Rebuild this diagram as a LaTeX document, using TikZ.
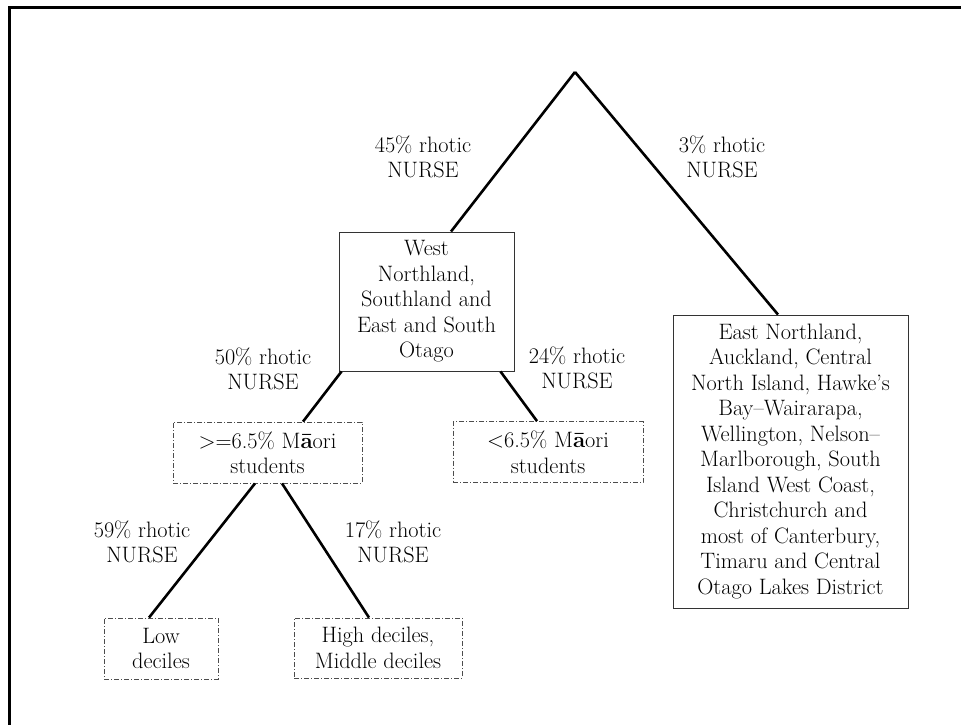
\documentclass[tikz,border=0pt]{standalone}
\usepackage{fontspec}
\begin{document}
\begin{tikzpicture}[x=1pt,y=-1pt,
  txt/.style={font=\fontsize{22.3}{25.5}\selectfont, align=center, inner sep=0pt},
  solidbox/.style={txt, draw=black!80, line width=0.9pt, minimum width=#1},
  dashbox/.style={txt, draw=black!70, line width=0.8pt, dash pattern=on 5pt off 2pt on 1pt off 2pt},
  conn/.style={line width=2.6pt, black}]
\useasboundingbox (0,0) rectangle (961,725);
\draw[line width=3pt] (9,726) -- (9,8) -- (962,8);

\coordinate (apex) at (575,72);

\node[solidbox=175pt, minimum height=139pt] (west) at (426.5,301.5)
  {West\\Northland,\\Southland and\\East and South\\Otago};
\node[solidbox=235pt, minimum height=293pt] (east) at (790.5,461.5)
  {East Northland,\\Auckland, Central\\North Island, Hawke's\\Bay--Wairarapa,\\Wellington, Nelson--\\Marlborough, South\\Island West Coast,\\Christchurch and\\most of Canterbury,\\Timaru and Central\\Otago Lakes District};

\node[dashbox, minimum width=189pt, minimum height=61pt] (hi) at (267.5,452.5)
  {>=6.5\% M\textbf{ā}ori\\students};
\node[dashbox, minimum width=190pt, minimum height=61pt] (lo) at (548,452)
  {<6.5\% M\textbf{ā}ori\\students};
\node[dashbox, minimum width=114pt, minimum height=61pt] (low) at (161,648.5)
  {Low\\deciles};
\node[dashbox, minimum width=168pt, minimum height=60pt] (high) at (378,648)
  {High deciles,\\Middle deciles};

\node[txt] (l45) at (423,157) {45\% rhotic\\NURSE};
\node[txt] (l3) at (722,157) {3\% rhotic\\NURSE};
\node[txt] (l50) at (263,369) {50\% rhotic\\NURSE};
\node[txt] (l24) at (577,368) {24\% rhotic\\NURSE};
\node[txt] (l59) at (142,542) {59\% rhotic\\NURSE};
\node[txt] (l17) at (393,542) {17\% rhotic\\NURSE};

\draw[conn] (apex) -- ([xshift=24.5pt]west.north);
\draw[conn] (apex) -- ([xshift=-12.5pt]east.north);
\draw[conn] ([xshift=3pt]west.south west) -- ([xshift=35.5pt]hi.north);
\draw[conn] ([xshift=-14pt]west.south east) -- ([xshift=-11pt]lo.north);
\draw[conn] ([xshift=-12.5pt]hi.south) -- ([xshift=-12pt]low.north);
\draw[conn] ([xshift=14.5pt]hi.south) -- ([xshift=-9pt]high.north);
\end{tikzpicture}
\end{document}
